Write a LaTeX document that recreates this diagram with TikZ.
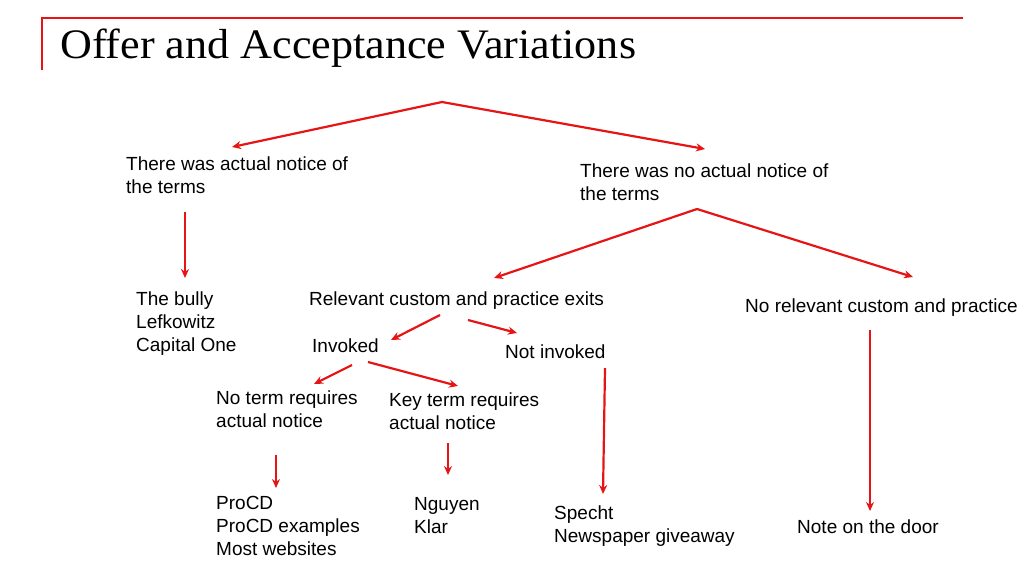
\documentclass[tikz,border=0pt]{standalone}
\usepackage{fontspec}
\setmainfont{Liberation Sans}
\newfontfamily\titlefont{Liberation Serif}
\usetikzlibrary{arrows.meta,positioning}
\definecolor{linered}{RGB}{230,20,20}

\begin{document}
\begin{tikzpicture}[x=1pt,y=-1pt,
  txt/.style={anchor=north west,inner sep=0pt,align=left,font=\fontsize{19}{23}\selectfont},
  arr/.style={draw=linered,line width=2.2pt,-{Stealth[length=9pt,width=8pt]}}]
  \useasboundingbox (0,0) rectangle (1024,576);
  % title bar
  \draw[linered,line width=1.2pt] (42,70) -- (42,18) -- (963,18);
  \node[anchor=base west,inner sep=0pt,font=\titlefont\fontsize{42}{44}\selectfont,xscale=1.05] (title) at (60,58) {Offer and Acceptance Variations};

  \node[txt] (notice) at (126,157) {There was actual notice of\\the terms};
  \node[txt] (nonotice) at (580,164) {There was no actual notice of\\the terms};
  \node[txt] (bully) at (136,292) {The bully\\Lefkowitz\\Capital One};
  \node[txt] (custom) at (309,292) {Relevant custom and practice exits};
  \node[txt] (nocustom) at (745,299) {No relevant custom and practice};
  \node[txt] (invoked) at (312,339) {Invoked};
  \node[txt] (notinv) at (505,345) {Not invoked};
  \node[txt] (noterm) at (216,391) {No term requires\\actual notice};
  \node[txt] (keyterm) at (389,393) {Key term requires\\actual notice};
  \node[txt] (procd) at (216,496) {ProCD\\ProCD examples\\Most websites};
  \node[txt] (nguyen) at (414,497) {Nguyen\\Klar};
  \node[txt] (specht) at (554,506) {Specht\\Newspaper giveaway};
  \node[txt] (door) at (797,520) {Note on the door};

  \coordinate (top) at (442,102);
  \coordinate (split) at (697,209);
  \draw[arr] (top) -- (232,147);
  \draw[arr] (top) -- (705,149);
  \draw[arr] (185,212) -- (185,278);
  \draw[arr] (split) -- (494,278);
  \draw[arr] (split) -- (913,277);
  \draw[arr] (440,315) -- (391,340);
  \draw[arr] (468,320) -- (517,333);
  \draw[arr] (352,365) -- (314,384);
  \draw[arr] (368,362) -- (458,386);
  \draw[arr] (605,368) -- (603,494);
  \draw[arr] (870,330) -- (870,511);
  \draw[arr] (276,455) -- (276,488);
  \draw[arr] (448,443) -- (448,475);
\end{tikzpicture}
\end{document}
